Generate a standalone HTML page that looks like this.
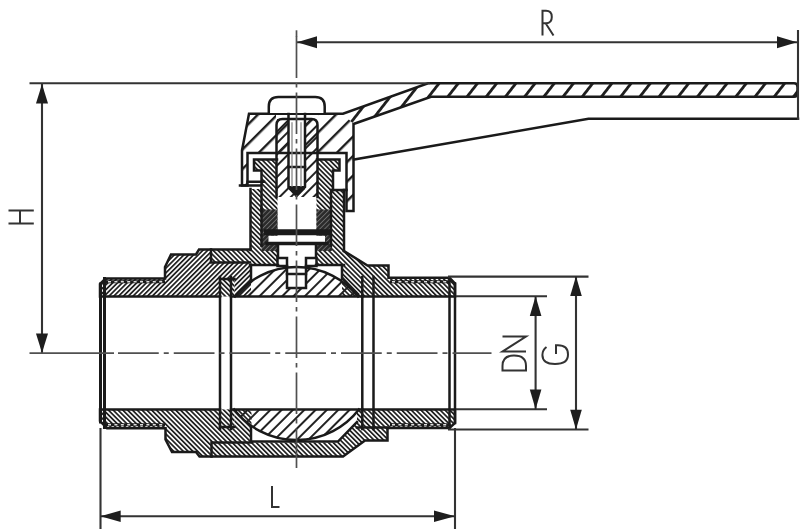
<!DOCTYPE html>
<html><head><meta charset="utf-8"><style>
html,body{margin:0;padding:0;background:#fff;width:800px;height:529px;overflow:hidden}
svg{display:block}
</style></head><body>
<svg width="800" height="529" viewBox="0 0 800 529">
<defs>
<pattern id="fA" patternUnits="userSpaceOnUse" width="3.4" height="10" patternTransform="rotate(45)"><rect x="0" y="0" width="1.75" height="10" fill="#222"/></pattern>
<pattern id="fB" patternUnits="userSpaceOnUse" width="3.4" height="10" patternTransform="rotate(-45)"><rect x="0" y="0" width="1.75" height="10" fill="#222"/></pattern>
<pattern id="cA" patternUnits="userSpaceOnUse" width="8" height="10" patternTransform="rotate(45)"><rect x="0" y="0" width="2" height="10" fill="#222"/></pattern>
<pattern id="hH" patternUnits="userSpaceOnUse" width="15.13" height="20" patternTransform="rotate(38) translate(2.53,0)"><rect x="0" y="0" width="2.8" height="20" fill="#1e1e1e"/></pattern>
<pattern id="hB" patternUnits="userSpaceOnUse" width="13.8" height="20" patternTransform="rotate(45)"><rect x="0" y="0" width="2.4" height="20" fill="#1e1e1e"/></pattern>
<pattern id="dk" patternUnits="userSpaceOnUse" width="3.4" height="10" patternTransform="rotate(45)"><rect x="0" y="0" width="3.4" height="10" fill="#2a2a2a"/><rect x="0" y="0" width="0.9" height="10" fill="#707070"/></pattern>
</defs>

<!-- ===== VALVE FILLS ===== -->
<g stroke="none">
  <!-- handle hub + band -->
  <path fill="url(#hB)" d="M249,113.8 H343 L353.5,124 V211 H346.5 V153 H247.5 V185.5 H242 V150.4 Z"/>
  <path fill="url(#hH)" d="M343,113.8 L428,83.3 H794 Q797.5,83.3 797.5,87 V93 Q797.5,96.7 794,96.7 H431 L353.5,124 Z"/>
  <!-- left insert top -->
  <path fill="url(#fA)" d="M100,284 L105.5,278.5 H165 V267 L171,254.5 H196 L199,249.5 H211 V262.5 H251 V296.5 H100 Z"/>
  <!-- left insert bottom -->
  <path fill="url(#fB)" d="M100,421 L107,428.2 H165.5 V439.5 L172,452 H196 L199.5,456.5 H211.5 V442.5 H251.5 V409.5 H100 Z"/>
  <!-- body top -->
  <path fill="url(#fB)" d="M211,249.5 H250.5 V189 H344 V251 L367.5,265.5 H388.5 V277.8 H449.5 L455,283.5 V296.5 H342 V265.5 H251 V262.5 H211 Z"/>
  <!-- body bottom -->
  <path fill="url(#fB)" d="M211.5,442.5 V456.5 H343 L365,440.5 H387.5 V428 H449.5 L455,423 V409.5 H357 V422 L338,442.5 Z"/>
  <!-- seats -->
  <g fill="#fff"><rect x="220" y="279" width="14.5" height="17.5"/><rect x="220" y="409.5" width="14.5" height="17.5"/></g>
  <rect x="220" y="279" width="14.5" height="17.5" fill="url(#fB)"/>
  <rect x="220" y="409.5" width="14.5" height="17.5" fill="url(#fB)"/>
  <!-- neck interior white -->
  <rect x="277.5" y="189" width="39" height="76" fill="#fff"/>
  <!-- ball cavity white gaps -->
  <path fill="#fff" d="M252,296.5 V265.5 H342 V296.5 Z"/>
  <path fill="#fff" d="M252,409.5 V441.5 H338 L357,422 V409.5 Z"/>
  <!-- ball caps (r=86, c=296.5,353) -->
  <path fill="url(#cA)" d="M234.9,296.5 A79,79 0 0 1 358.1,296.5 Z"/>
  <path fill="url(#cA)" d="M234.1,409.5 A79,79 0 0 0 358.9,409.5 Z"/>
  <!-- packing (dark) -->
  <rect x="261.5" y="209.5" width="16" height="41.5" fill="url(#dk)"/>
  <rect x="316.5" y="209.5" width="15.5" height="41.5" fill="url(#dk)"/>
  <!-- gland nut -->
  <path fill="#fff" d="M254,159.5 H277 V209 H261.5 V170.5 H254 Z M317,159.5 H339.5 V170.5 H333 V190 H331 V209 H317 Z"/>
  <path fill="url(#fB)" d="M254,159.5 H277 V209 H261.5 V170.5 H254 Z"/>
  <path fill="url(#fB)" d="M317,159.5 H339.5 V170.5 H333 V190 H331 V209 H317 Z"/>
  <!-- stem top (in hub) -->
  <rect x="277" y="119" width="40" height="78" fill="url(#cA)"/>
  <rect x="276" y="114.5" width="42" height="4.5" fill="#fff"/>
  <!-- white stem box -->
  <rect x="278" y="197" width="38" height="32" fill="#fff"/>
  <rect x="268.5" y="235.8" width="56.5" height="6.6" fill="#fff"/>
  <path fill="#fff" d="M278,245 H316 V258 H306 V288 H287 V258 H278 Z"/>
  <!-- screw hole -->
  <rect x="288.5" y="116" width="16.5" height="72" fill="#fff"/>
  <path fill="#1a1a1a" d="M288.5,186 H305 V189 L296.7,197 L288.5,189 Z"/>
</g>

<!-- ===== VALVE OUTLINES ===== -->
<g stroke="#1a1a1a" stroke-width="2.5" fill="none" stroke-linejoin="miter" stroke-linecap="square">
  <!-- handle outline -->
  <path d="M249,113.8 H343 L428,83.3 H794 Q797.5,83.3 797.5,87 V93 Q797.5,96.7 794,96.7 H431 L353.5,124 V211 H346.5 V153 H247.5 V185.5 H242 V150.4 Z"/>
  <path d="M354,159.5 L588.5,118.8 H798"/>
  <!-- screw head -->
  <path d="M268.8,113 V106.5 Q268.8,97 278.3,97 H315.2 Q324.7,97 324.7,106.5 V113" fill="#fff"/>
  <!-- stem in hub -->
  <path d="M276.5,197 V125 Q276.5,119 282.5,119 H311.5 Q317.5,119 317.5,125 V197"/>
  <path d="M288.5,114 V187 L296.5,196 L305,187 V114"/>
  <path d="M288.5,167 H305"/>
  <path d="M292,123 V186 M301,123 V186" stroke="#8a8a8a" stroke-width="1.3"/>
  <!-- gland nut outline -->
  <path d="M261.5,209 V170.5 H254 V159.5 H277"/>
  <path d="M333,190 V170.5 H339.5 V159.5 H317"/>
  <!-- left insert outline -->
  <path d="M220,296.5 H100 V284 L105.5,278.5 H165 V267 L171,254.5 H196 L199,249.5 H250.5"/>
  <path d="M220,409.5 H100 V421 L107,428.2 H165.5 V439.5 L172,452 H196 L199.5,456.5 H343 L365,440.5 H387.5 V428 H449.5 L455,423 V409.5 H362"/>
  <path d="M100.5,284 V422 M104.5,278.5 V427.5" stroke-width="3"/>
  <path d="M211,249.5 V262.5 H250 M211.5,456.5 V442.5 H252"/>
  <!-- neck -->
  <path d="M250.5,250 V189 M344,251 V190"/>
  <path d="M344,251 L367.5,265.5 H388.5 V277.8 H449.5 L455,283.5 V296.5 H362"/>
  <path d="M449.5,277.8 V428 M455,283.5 V423"/>
  <path d="M261.5,209 V246 M331,190 V246"/>
  <path d="M250,265 H278 M316,265 H344"/>
  <path d="M240,185.5 H260 M247.5,181.8 H264 M333,190 H346.5"/>
  <!-- stem collar -->
  <path d="M267,232.3 H327" stroke-width="6"/>
  <path d="M267,243.5 H327" stroke-width="3.5"/>
  <path d="M278,245 V258 H287 V288 H306 V258 H316 V245"/>
  <path d="M287,274 H306"/>
  <path d="M277.5,258 V266 H287 M316.5,258 V266 H306"/>
  <!-- bore / seats -->
  <path d="M220,277 V429 M231,277 V429 M362.3,277 V429 M373.5,277 V429"/>
  <!-- ball -->
  <path d="M234.9,296.5 A79,79 0 0 1 358.1,296.5 M234.1,409.5 A79,79 0 0 0 358.9,409.5"/>
  <path d="M231,296.5 H362.3 M231,409.5 H362.3"/>
  <path d="M251,265.5 V279 M342,265.5 V279 M251,441.5 V428 M252,441.5 H338 L357,422"/>
  <path d="M220,279 H234.5 M220,427 H234.5 M342.5,278 L358,294 M357,427.5 H387"/>
</g>
<!-- thread dashed lines -->
<g stroke="#1a1a1a" stroke-width="3">
  <line x1="106" y1="281.8" x2="165" y2="281.8"/>
  <line x1="106" y1="424.7" x2="165" y2="424.7"/>
  <line x1="390" y1="281.8" x2="449" y2="281.8"/>
  <line x1="390" y1="424.7" x2="449" y2="424.7"/>
</g>
<g stroke="#fff" stroke-width="1.5" stroke-dasharray="3 3.4" opacity="0.85">
  <line x1="108" y1="281.8" x2="163" y2="281.8"/>
  <line x1="108" y1="424.7" x2="163" y2="424.7"/>
  <line x1="392" y1="281.8" x2="447" y2="281.8"/>
  <line x1="392" y1="424.7" x2="447" y2="424.7"/>
</g>
<!-- ===== DIMENSIONS ===== -->
<g fill="none" stroke="#333" stroke-width="2.1">
  <line x1="297" y1="42.3" x2="797" y2="42.3"/>
  <line x1="798" y1="30" x2="798" y2="120"/>
  <line x1="29.5" y1="83.3" x2="430" y2="83.3"/>
  <line x1="42" y1="84" x2="42" y2="353"/>
  <line x1="100.5" y1="428" x2="100.5" y2="529"/>
  <line x1="455" y1="428" x2="455" y2="529"/>
  <line x1="100.5" y1="516.3" x2="455" y2="516.3"/>
  <line x1="448" y1="276.6" x2="588.5" y2="276.6"/>
  <line x1="456" y1="296.2" x2="547" y2="296.2"/>
  <line x1="456" y1="409.3" x2="547" y2="409.3"/>
  <line x1="448" y1="429.5" x2="588.5" y2="429.5"/>
  <line x1="535.6" y1="296" x2="535.6" y2="409.5"/>
  <line x1="576" y1="276.3" x2="576" y2="429.5"/>
</g>
<g fill="#1e1e1e" stroke="none">
  <polygon points="297,42.3 317,36.3 317,48.3"/>
  <polygon points="797,42.3 777,36.3 777,48.3"/>
  <polygon points="42,84 36,103.5 48,103.5"/>
  <polygon points="42,353 36,333.5 48,333.5"/>
  <polygon points="100.5,516.3 120.7,510.5 120.7,522"/>
  <polygon points="455,516.3 434,510.5 434,522"/>
  <polygon points="535.6,296.2 529.8,316 541.4,316"/>
  <polygon points="535.6,409.3 529.8,389.5 541.4,389.5"/>
  <polygon points="576,276.3 570.2,296 581.8,296"/>
  <polygon points="576,429.5 570.2,409.8 581.8,409.8"/>
</g>
<!-- centerlines -->
<g fill="none" stroke="#505050" stroke-width="1.7">
  <line x1="29.5" y1="353.2" x2="114" y2="353.2"/>
  <line x1="118" y1="353.2" x2="491.5" y2="353.2" stroke-dasharray="40.75 5 5 5"/>
  <line x1="296.5" y1="30.3" x2="296.5" y2="37"/>
  <line x1="296.5" y1="36.5" x2="296.5" y2="468" stroke-dasharray="41.5 5 4.5 5"/>
</g>
<!-- letters -->
<g stroke="#333" stroke-width="2" fill="none">
  <path d="M542.5,35.5 V10.8 H546 Q551.8,10.8 551.8,16.9 Q551.8,23.2 546,23.2 H542.5 M545.8,23.5 L553.5,35.5"/>
  <path d="M8.5,210.6 H33.8 M8.5,223.5 H33.8 M20,210.6 V223.5"/>
  <path d="M272,486 V507 H279.5"/>
  <path d="M502.5,336.5 H526 L502.5,351.5 H526"/>
  <path d="M502.5,370.5 H526 V366 Q526,355.5 514,355.5 Q502.5,355.5 502.5,366 Z"/>
  <path d="M546.5,347 Q542.4,350 542.4,355 Q542.4,364 555,364 Q568,364 568,354.5 Q568,345.3 558,345.3 H556 V354"/>
</g>
</svg>
</body></html>
